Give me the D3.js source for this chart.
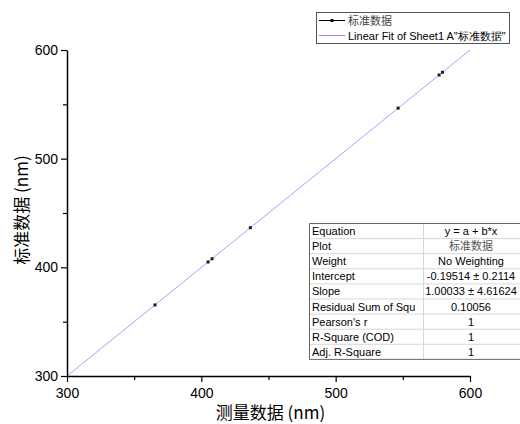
<!DOCTYPE html>
<html>
<head>
<meta charset="utf-8">
<script src="https://cdnjs.cloudflare.com/ajax/libs/d3/7.8.5/d3.min.js"></script>
<style>
  body { margin: 0; background: #fff; }
  svg { display: block; font-family: "Liberation Sans", Arial, sans-serif; }
</style>
</head>
<body>
<script>
// data
var measured = [365.5, 405, 408, 436.5, 546.5, 577, 579.5];
var standard = [365.4, 404.9, 407.9, 436.5, 546.5, 577.0, 579.5];
var fitA = -0.19514, fitB = 1.00033;
var xTicks = [300, 400, 500, 600];
var yTicks = [300, 400, 500, 600];
var minorTicks = [350, 450, 550];
var tableLabels = ["Equation", "Plot", "Weight", "Intercept", "Slope",
  "Residual Sum of Squ", "Pearson's r", "R-Square (COD)", "Adj. R-Square"];
var tableValues = ["y = a + b*x", "标准数据", "No Weighting", "-0.19514 ± 0.2114",
  "1.00033 ± 4.61624", "0.10056", "1", "1", "1"];

var width = 520, height = 424;
var svg = d3.select("body").append("svg")
    .attr("width", width)
    .attr("height", height);

// scales
var x = d3.scaleLinear().domain([300, 600]).range([67, 470]);
var y = d3.scaleLinear().domain([300, 600]).range([376, 50]);

var cjk = "'Noto Sans CJK SC', sans-serif";

// fit line
svg.append("line")
    .attr("x1", x(300)).attr("y1", y(fitA + fitB * 300))
    .attr("x2", x(600)).attr("y2", y(fitA + fitB * 600))
    .style("stroke", "#8c8cff")
    .style("stroke-width", 0.8);

// data points
svg.append("g")
    .selectAll("rect")
    .data(measured)
    .enter().append("rect")
    .attr("x", function(d) { return x(d) - 1.5; })
    .attr("y", function(d, i) { return y(standard[i]) - 1.5; })
    .attr("width", 3)
    .attr("height", 3)
    .style("fill", "#1a1a2a");

// axes
svg.append("g")
    .attr("transform", "translate(0," + y(300) + ")")
    .call(d3.axisBottom(x).tickValues(xTicks).tickSize(6).tickPadding(6).tickSizeOuter(0));
svg.append("g")
    .attr("transform", "translate(0," + y(300) + ")")
    .call(d3.axisBottom(x).tickValues(minorTicks).tickSize(4).tickFormat("").tickSizeOuter(0))
    .select(".domain").remove();

svg.append("g")
    .attr("transform", "translate(" + x(300) + ",0)")
    .call(d3.axisLeft(y).tickValues(yTicks).tickSize(6).tickPadding(3).tickSizeOuter(0));
svg.append("g")
    .attr("transform", "translate(" + x(300) + ",0)")
    .call(d3.axisLeft(y).tickValues(minorTicks).tickSize(4).tickFormat("").tickSizeOuter(0))
    .select(".domain").remove();

svg.selectAll(".domain").style("stroke", "#000").style("stroke-width", 1.5);
svg.selectAll(".tick line").style("stroke", "#000").style("stroke-width", 1.2);
svg.selectAll(".tick text")
    .style("font-family", "'Liberation Sans', Arial, sans-serif")
    .style("font-size", "14px")
    .style("fill", "#000");

// axis titles
svg.append("text")
    .attr("x", x(450) + 2)
    .attr("y", 419)
    .attr("text-anchor", "middle")
    .style("font-family", cjk)
    .style("font-size", "17px")
    .text("测量数据 (nm)");

svg.append("text")
    .attr("transform", "translate(28," + (y(450) - 3) + ") rotate(-90)")
    .attr("text-anchor", "middle")
    .style("font-family", cjk)
    .style("font-size", "17px")
    .text("标准数据 (nm)");

// legend
var legend = svg.append("g");
legend.append("rect")
    .attr("x", 316.5).attr("y", 12.5)
    .attr("width", 193).attr("height", 31)
    .style("fill", "#fff")
    .style("stroke", "#555");
legend.append("line")
    .attr("x1", 319).attr("x2", 345).attr("y1", 20.5).attr("y2", 20.5)
    .style("stroke", "#000");
legend.append("rect")
    .attr("x", 330.5).attr("y", 19).attr("width", 3).attr("height", 3)
    .style("fill", "#000");
legend.append("line")
    .attr("x1", 319).attr("x2", 345).attr("y1", 35.5).attr("y2", 35.5)
    .style("stroke", "#8c8cff");
legend.append("text")
    .attr("x", 348).attr("y", 25)
    .style("font-family", cjk)
    .style("font-size", "11px")
    .style("fill", "#444")
    .text("标准数据");
legend.append("text")
    .attr("x", 348).attr("y", 40)
    .style("font-size", "11px")
    .style("fill", "#000")
    .text("Linear Fit of Sheet1 A\"标准数据\"");

// stats table
var rowH = 15.1, tx = 309.5, ty = 223.5, colX = 423.5;
var table = svg.append("g");
table.selectAll("line.row")
    .data(d3.range(1, tableLabels.length))
    .enter().append("line")
    .attr("x1", tx).attr("x2", 520)
    .attr("y1", function(d) { return ty + d * rowH; })
    .attr("y2", function(d) { return ty + d * rowH; })
    .style("stroke", "#d8d8d8");
table.append("line")
    .attr("x1", colX).attr("x2", colX)
    .attr("y1", ty).attr("y2", ty + rowH * tableLabels.length)
    .style("stroke", "#d8d8d8");
table.append("path")
    .attr("d", "M520," + ty + "H" + tx + "V" + (ty + rowH * tableLabels.length) + "H520")
    .style("fill", "none")
    .style("stroke", "#666");
table.selectAll("text.lab")
    .data(tableLabels)
    .enter().append("text")
    .attr("x", tx + 2.5)
    .attr("y", function(d, i) { return ty + i * rowH + 11.5; })
    .style("font-size", "11px")
    .text(function(d) { return d; });
table.selectAll("text.val")
    .data(tableValues)
    .enter().append("text")
    .attr("x", 471)
    .attr("y", function(d, i) { return ty + i * rowH + 11.5; })
    .attr("text-anchor", "middle")
    .style("font-size", "11px")
    .style("font-family", function(d, i) { return i === 1 ? cjk : null; })
    .style("fill", function(d, i) { return i === 1 ? "#555" : "#000"; })
    .text(function(d) { return d; });
</script>
</body>
</html>
